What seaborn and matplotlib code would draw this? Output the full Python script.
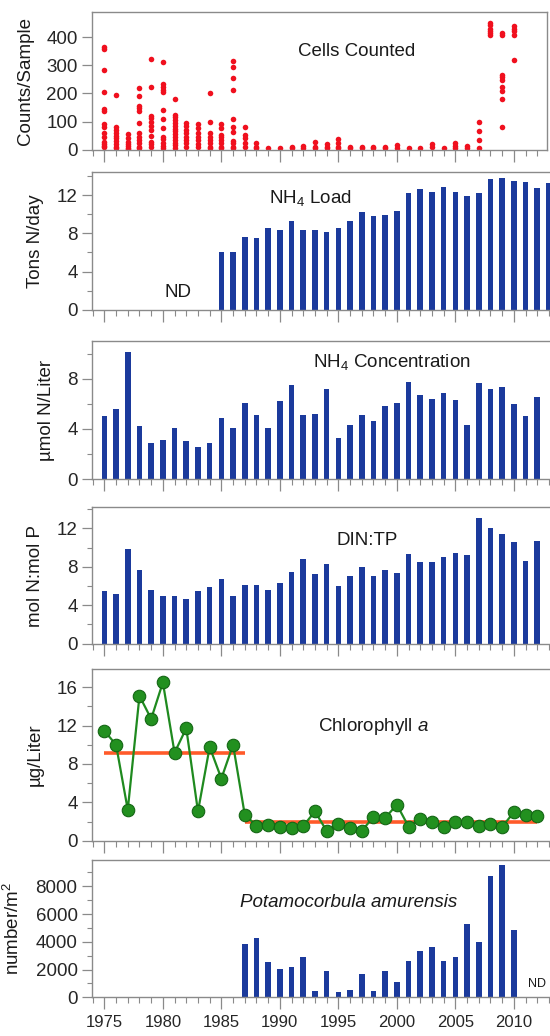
import matplotlib
matplotlib.use("Agg")
import pandas as pd
import matplotlib.pyplot as plt
import matplotlib.ticker as mticker
import seaborn as sns

# ---- data ----
conc_years = list(range(1975, 2013))
load_years = list(range(1985, 2014))
clam_years = list(range(1987, 2011))

nh4_load = [6.0, 6.0, 7.6, 7.5, 8.6, 8.4, 9.3, 8.4, 8.4, 8.1, 8.6, 9.3, 10.2, 9.8,
            9.9, 10.3, 12.2, 12.6, 12.3, 12.9, 12.3, 11.9, 12.2, 13.7, 13.8, 13.5,
            13.4, 12.8, 13.3]

nh4_conc = [5.06, 5.56, 10.1, 4.24, 2.89, 3.1, 4.1, 3.05, 2.57, 2.83, 4.9, 4.08,
            6.07, 5.09, 4.1, 6.23, 7.52, 5.14, 5.22, 7.15, 3.28, 4.29, 5.14, 4.64,
            5.8, 6.07, 7.73, 6.73, 6.36, 6.89, 6.33, 4.32, 7.66, 7.2, 7.36, 6.01,
            5.06, 6.54]

din_tp = [5.48, 5.13, 9.82, 7.67, 5.58, 4.96, 4.96, 4.65, 5.48, 5.86, 6.69, 4.96,
          6.07, 6.07, 5.58, 6.28, 7.49, 8.78, 7.28, 8.29, 6.0, 7.08, 7.98, 7.04,
          7.67, 7.32, 9.3, 8.53, 8.5, 9.02, 9.47, 9.23, 13.1, 12.07, 11.38, 10.54,
          8.57, 10.68]

chl_a = [11.45, 10.0, 3.22, 15.1, 12.7, 16.5, 9.17, 11.73, 3.05, 9.77, 6.48, 10.0,
         2.7, 1.58, 1.6, 1.44, 1.33, 1.54, 3.05, 1.02, 1.72, 1.3, 1.02, 2.49, 2.38,
         3.75, 1.47, 2.31, 1.93, 1.44, 2.0, 1.96, 1.5, 1.72, 1.44, 2.98, 2.66, 2.56]

chl_mean_start = [1975, 1987]
chl_mean_end = [1987, 2012]
chl_mean_level = [9.1, 2.0]

clam_density = [3850, 4300, 2580, 2020, 2170, 2870, 460, 1900, 360, 530, 1660, 430,
                1900, 1110, 2650, 3370, 3660, 2650, 2900, 5300, 3960, 8770, 9550, 4870]

cell_years = list(range(1975, 2011))
cell_counts = [
    [365, 356, 283, 205, 145, 137, 92, 80, 61, 44, 29, 20, 14, 8],
    [195, 80, 70, 60, 50, 40, 30, 20, 10, 5],
    [56, 40, 28, 20, 12, 6, 2],
    [219, 189, 156, 148, 136, 94, 58, 46, 35, 23, 11, 5],
    [323, 223, 121, 112, 100, 85, 70, 49, 29, 20, 11],
    [312, 233, 223, 213, 204, 142, 110, 76, 46, 37, 25, 14, 7],
    [180, 124, 115, 105, 95, 85, 75, 65, 55, 45, 35, 25, 15, 5],
    [96, 85, 70, 58, 46, 35, 23, 11],
    [90, 76, 58, 46, 35, 19, 8],
    [201, 99, 58, 46, 35, 23, 11, 5],
    [90, 76, 52, 46, 35, 23, 11, 5],
    [314, 293, 256, 212, 110, 82, 64, 32, 23, 11, 5],
    [80, 52, 40, 23, 11],
    [23, 11, 5],
    [7],
    [7],
    [11, 5],
    [14, 5],
    [29, 11, 5],
    [20, 11, 5],
    [37, 23, 11, 5],
    [11, 5],
    [11, 5],
    [11, 5],
    [11, 5],
    [17, 7],
    [7],
    [7],
    [20, 11],
    [7],
    [23, 13, 5],
    [13, 5],
    [98, 67, 35, 7],
    [451, 442, 430, 421, 415, 408],
    [415, 408, 264, 258, 249, 223, 207, 180, 79],
    [439, 430, 421, 406, 318],
]

cells = pd.DataFrame(
    [(y, c) for y, vals in zip(cell_years, cell_counts) for c in vals],
    columns=["Year", "Count"],
)

# ---- style ----
sns.set_style("ticks")
plt.rcParams["font.family"] = ["Liberation Sans", "DejaVu Sans"]
plt.rcParams["mathtext.fontset"] = "custom"
plt.rcParams["mathtext.rm"] = "Liberation Sans"
plt.rcParams["mathtext.it"] = "Liberation Sans:italic"
plt.rcParams["text.color"] = "#1a1a1a"
plt.rcParams["axes.labelcolor"] = "#1a1a1a"

BAR = "#1b3a9c"
GRAY = "#8a8a8a"
W, H = 550, 1036
LEFT = 91.5
PX_PER_YEAR = 11.7
X0 = 1973.9

fig = plt.figure(figsize=(W / 100, H / 100), dpi=100)


def add_panel(top, bottom, right):
    ax = fig.add_axes([LEFT / W, 1 - bottom / H, (right - LEFT) / W, (bottom - top) / H])
    ax.set_xlim(X0, X0 + (right - LEFT) / PX_PER_YEAR)
    return ax


def year_label(v, pos):
    return "%d" % v if v <= 2012 else ""


def style(ax, ymax, major, minor, ylabel, xlabels=False, right_spine=False):
    ax.set_ylim(0, ymax)
    ax.yaxis.set_major_locator(mticker.MultipleLocator(major))
    if minor:
        ax.yaxis.set_minor_locator(mticker.MultipleLocator(minor))
    ax.xaxis.set_major_locator(mticker.MultipleLocator(5))
    ax.xaxis.set_minor_locator(mticker.MultipleLocator(1))
    ax.xaxis.set_major_formatter(mticker.FuncFormatter(year_label))
    for s in ax.spines.values():
        s.set_color(GRAY)
        s.set_linewidth(1.0)
    ax.spines["right"].set_visible(right_spine)
    ax.tick_params(axis="x", which="major", length=8.5, width=0.9, color=GRAY,
                   labelsize=12, pad=4, labelbottom=xlabels)
    ax.tick_params(axis="x", which="minor", length=4, width=0.8, color=GRAY)
    ax.tick_params(axis="y", which="major", length=7, width=0.9, color=GRAY,
                   labelsize=13.5, pad=3)
    ax.tick_params(axis="y", which="minor", length=3.5, width=0.8, color=GRAY)
    ax.set_ylabel(ylabel, fontsize=13.5, labelpad=9)
    ax.set_xlabel("")
    ax.set_facecolor("white")


def bars(ax, x, y):
    sns.barplot(x=x, y=y, native_scale=True, width=0.48, color=BAR,
                saturation=1, linewidth=0, ax=ax)


# 1 cells counted
ax1 = add_panel(11.7, 149.7, 546.7)
sns.scatterplot(data=cells, x="Year", y="Count", color="#f0101e", s=16,
                linewidth=0, ax=ax1, legend=False)
ax1.set_xlim(X0, X0 + (546.7 - LEFT) / PX_PER_YEAR)
style(ax1, 490, 100, None, "Counts/Sample", right_spine=True)
ax1.text(1996.6, 347, "Cells Counted", ha="center", va="center", fontsize=13.5)

# 2 NH4 load
ax2 = add_panel(172.3, 309.7, 600)
bars(ax2, load_years, nh4_load)
ax2.set_xlim(X0, X0 + (600 - LEFT) / PX_PER_YEAR)
style(ax2, 14.4, 4, 2, "Tons N/day")
ax2.text(1992.6, 11.67, "NH$_4$ Load", ha="center", va="center", fontsize=13.5)
ax2.text(1981.3, 1.8, "ND", ha="center", va="center", fontsize=13.5)

# 3 NH4 concentration
ax3 = add_panel(341, 479, 600)
bars(ax3, conc_years, nh4_conc)
ax3.set_xlim(X0, X0 + (600 - LEFT) / PX_PER_YEAR)
style(ax3, 11, 4, 2, "\u00b5mol N/Liter")
ax3.text(1999.6, 9.3, "NH$_4$ Concentration", ha="center", va="center", fontsize=13.5)

# 4 DIN:TP
ax4 = add_panel(507.3, 643.7, 600)
bars(ax4, conc_years, din_tp)
ax4.set_xlim(X0, X0 + (600 - LEFT) / PX_PER_YEAR)
style(ax4, 14.2, 4, 2, "mol N:mol P")
ax4.text(1997.5, 10.7, "DIN:TP", ha="center", va="center", fontsize=13.5)

# 5 chlorophyll a
ax5 = add_panel(669, 840.7, 600)
ax5.hlines(chl_mean_level, chl_mean_start, chl_mean_end, color="#ff5a2a",
           linewidth=2.6, zorder=2)
sns.lineplot(x=conc_years, y=chl_a, color="#1f8a1f", linewidth=1.6, marker="o",
             markersize=9, markerfacecolor="#22901f", markeredgecolor="#146614",
             markeredgewidth=0.8, ax=ax5, zorder=3)
ax5.set_xlim(X0, X0 + (600 - LEFT) / PX_PER_YEAR)
style(ax5, 17.9, 4, 2, "\u00b5g/Liter")
ax5.text(1998.0, 11.9, "Chlorophyll $a$", ha="center", va="center", fontsize=13.5)

# 6 Potamocorbula
ax6 = add_panel(860, 997.3, 600)
bars(ax6, clam_years, clam_density)
ax6.set_xlim(X0, X0 + (600 - LEFT) / PX_PER_YEAR)
style(ax6, 9900, 2000, 1000, "number/m$^2$", xlabels=True)
ax6.text(1995.9, 6800, "Potamocorbula amurensis", ha="center", va="center",
         fontsize=13.5, style="italic")
ax6.text(2012.0, 960, "ND", ha="center", va="center", fontsize=9)

fig.savefig("out.png", dpi=100)
